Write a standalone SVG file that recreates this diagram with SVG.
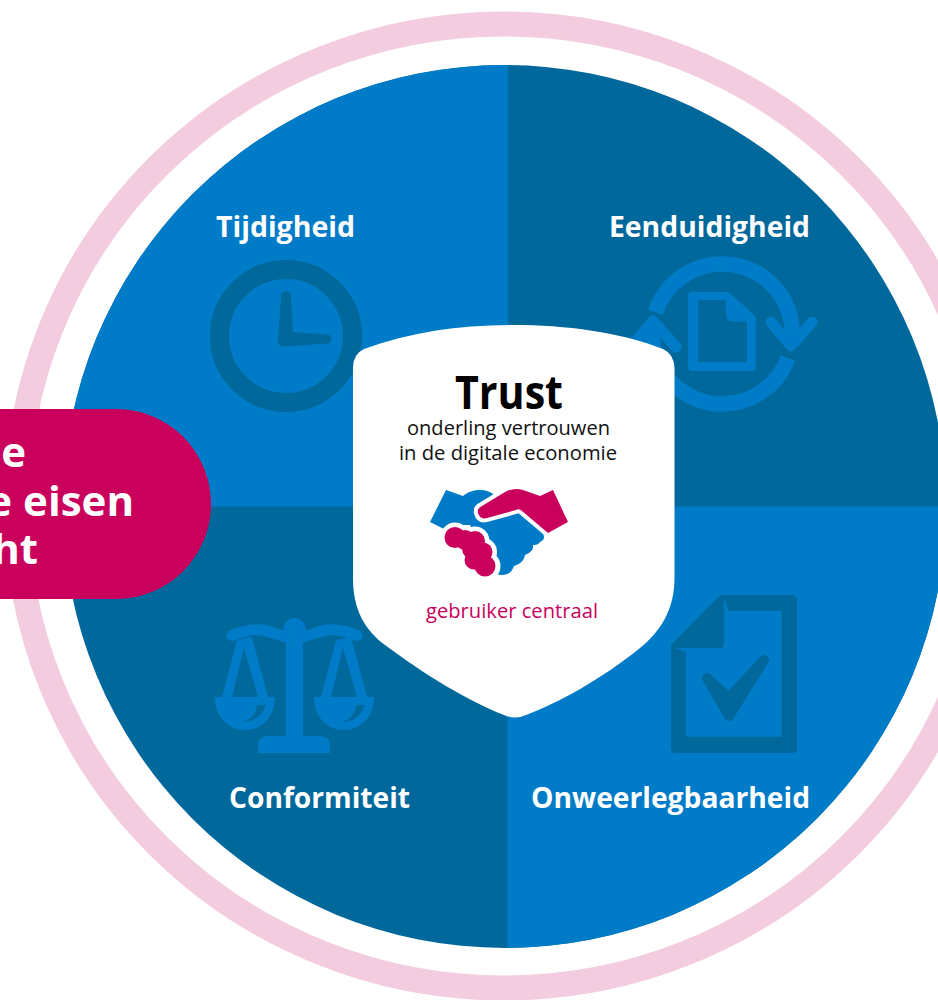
<svg xmlns="http://www.w3.org/2000/svg" width="938" height="1000" viewBox="0 0 938 1000">
<style>
text{font-family:"Open Sans","Noto Sans","Liberation Sans",sans-serif}
.lbl{font-size:28px;font-weight:700;fill:#fff}
.sub{font-size:19.5px;fill:#111;text-anchor:middle}
.call{font-size:42px;font-weight:700;fill:#fff;text-anchor:end}
.dk{fill:#01689B}.lt{fill:#007BC7}
.arc{fill:none;stroke:#007BC7;stroke-width:15.5}
.chev{fill:none;stroke:#007BC7;stroke-width:11;stroke-linecap:round;stroke-linejoin:round}
</style>
<defs>
<clipPath id="diskClip"><circle cx="504.500" cy="506.500" r="441.500"/></clipPath>
<g id="pan">
<path class="lt" fill-rule="evenodd" d="M237 640L222 697H215C215 717 228 730 245 730C262 730 275 717 275 697H268L252 637ZM244 648L232 697H258Z"/>
<path class="dk" d="M257 705H266C262 716 254 722 242 722C251 720 256 714 257 705Z"/>
</g>
</defs>
<rect width="938" height="1000" fill="#fff"/>
<ellipse id="ring" cx="504" cy="506" rx="487.500" ry="482" fill="none" stroke="#F3CCDF" stroke-width="25"/>
<g id="disk" clip-path="url(#diskClip)">
<rect class="dk" x="60" y="60" width="890" height="890"/>
<rect class="lt" x="60" y="60" width="448" height="446.500"/>
<rect class="lt" x="507.500" y="506.500" width="445" height="445"/>
</g>
<g id="tijdigheid">
<circle cx="286" cy="336" r="66.500" fill="none" stroke="#01689B" stroke-width="19"/>
<path class="dk" d="M281 296a5 5 0 0 1 10 0L293 332L327 334.500a4.500 4.500 0 0 1 0 9L284 346.500Q278 346.500 278 341Z"/>
<text class="lbl" x="216" y="237" textLength="139" lengthAdjust="spacingAndGlyphs">Tijdigheid</text>
</g>
<g id="eenduidigheid">
<path class="arc" d="M655.400 312.400A70 70 0 0 1 722 264A70 70 0 0 1 791.500 345"/>
<path class="arc" d="M788 358A70 70 0 0 1 722 404A70 70 0 0 1 652.500 328"/>
<path class="chev" d="M771 322L791 346L812 322"/>
<path class="chev" d="M632 346L653 321L676 347"/>
<path class="lt" fill-rule="evenodd" d="M692 292H727Q729 292 731 294L754 315Q756 317 756 320V367Q756 371 752 371H692Q688 371 688 367V296Q688 292 692 292ZM698 300V362H747V321.500H733Q726 321.500 726 314V300Z"/>
<text class="lbl" x="609" y="237" textLength="201" lengthAdjust="spacingAndGlyphs">Eenduidigheid</text>
</g>
<g id="conformiteit">
<path class="lt" d="M286 630H303V736H320Q330 736 330 746V753H258V746Q258 736 268 736H286Z"/>
<circle class="lt" cx="294.500" cy="629" r="11"/>
<path d="M232 635.500C245 630 255 629 262 630C270 631 280 636 290 638M357 635.500C344 630 334 629 327 630C319 631 309 636 299 638" fill="none" stroke="#007BC7" stroke-width="11" stroke-linecap="round"/>
<use href="#pan"/>
<use href="#pan" x="99"/>
<text class="lbl" x="229" y="808" textLength="181" lengthAdjust="spacingAndGlyphs">Conformiteit</text>
</g>
<g id="onweerlegbaarheid">
<path class="dk" fill-rule="evenodd" d="M724 595H792Q797 595 797 600V748Q797 753 792 753H676Q671 753 671 748V645L718 597Q721 595 724 595ZM724 598L728.500 611H781.700V736.700H686V652L675 648H720Q724 648 724 644Z"/>
<path class="dk" stroke="#01689B" stroke-width="10" stroke-linejoin="round" d="M707 678L729 698L764 660L729 716Z"/>
<text class="lbl" x="531" y="808" textLength="279" lengthAdjust="spacingAndGlyphs">Onweerlegbaarheid</text>
</g>
<g id="callout">
<path fill="#CA005D" d="M0 409H116A95 95 0 0 1 116 599H0Z"/>
<text class="call" x="26" y="467">e</text>
<text class="call" x="134" y="516">e eisen</text>
<text class="call" x="38" y="564">ht</text>
</g>
<g id="trust">
<path fill="#fff" d="M353 368Q353 354 364 349C410 332 460 325 513 325C566 325 620 332 663 349Q674 354 674.500 368V578C674.500 610 660 632 640 648C600 680 560 702 526 715Q515 720 504 715C470 702 425 675 385 645C365 630 353 610 353 578Z"/>
<text x="509" y="409" font-size="46" font-weight="700" fill="#000" text-anchor="middle" textLength="108" lengthAdjust="spacingAndGlyphs">Trust</text>
<text class="sub" x="508.500" y="435" textLength="203" lengthAdjust="spacingAndGlyphs">onderling vertrouwen</text>
<text class="sub" x="508" y="460" textLength="218" lengthAdjust="spacingAndGlyphs">in de digitale economie</text>
<g id="handshake">
<path class="lt" d="M446 490L463 496C470 490 485 486 497 497L515 505L543 533Q546 540 540 542C538 545 535 545 533 545C534 550 530 553 525 555C524 561 520 564 514 566C512 572 508 575 502 575Q497 575 494 572L470 525H458C452 525 449 527 446 530L430 522Z"/>
<path fill="#CA005D" stroke="#fff" stroke-width="8" stroke-linejoin="round" paint-order="stroke" d="M553 490L568 522L548 533L522 511Q519 508 516 510L487 518Q480 520 478 513Q477 508 482 506L505 492Q514 487 523 490L540 496Z"/>
<g fill="#fff">
<circle cx="455" cy="537" r="14.500"/><circle cx="475" cy="541" r="14.500"/><circle cx="483" cy="552" r="14"/><circle cx="486" cy="566" r="14.500"/><circle cx="467" cy="553" r="13"/>
</g>
<g fill="#CA005D">
<circle cx="455" cy="537.500" r="10.500"/><circle cx="465" cy="540" r="10"/><circle cx="475" cy="541" r="10"/><circle cx="483" cy="552" r="9.500"/><circle cx="485" cy="566" r="10.500"/><circle cx="472" cy="549" r="10"/><circle cx="474" cy="560" r="9.500"/>
</g>
</g>
<text x="512" y="618" font-size="19.500" fill="#CA005D" text-anchor="middle" textLength="172" lengthAdjust="spacingAndGlyphs">gebruiker centraal</text>
</g>
</svg>
